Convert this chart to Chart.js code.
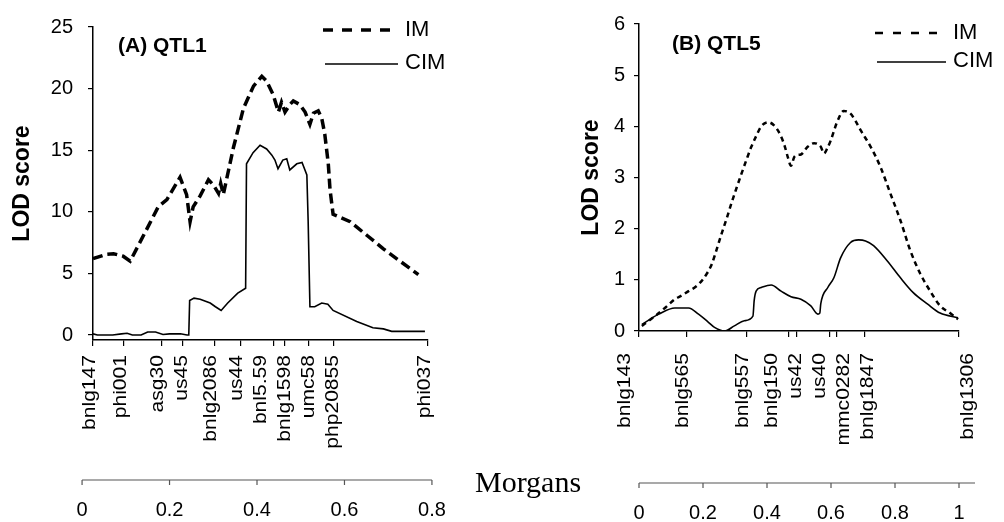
<!DOCTYPE html>
<html>
<head>
<meta charset="utf-8">
<title>QTL1 / QTL5 LOD profiles</title>
<script src="https://cdn.jsdelivr.net/npm/chart.js@4.4.1/dist/chart.umd.min.js"></script>
<style>
  body { margin: 0; background: #fff; }
  #wrap { position: relative; width: 1004px; height: 522px; overflow: hidden; }
  canvas { position: absolute; top: 0; }
  #cA { left: 0; }
  #cB { left: 540px; }
  #morgans { position: absolute; left: 475px; top: 467px; font: 30px 'Liberation Serif', 'Times New Roman', serif; line-height: 30px; color: #000; }
</style>
</head>
<body>
<div id="wrap">
  <canvas id="cA" width="540" height="522"></canvas>
  <canvas id="cB" width="464" height="522"></canvas>
  <div id="morgans">Morgans</div>
</div>
<script>
// ---- (A) QTL1 : positions in Morgans, LOD scores ----
const qtl1Markers = ['bnlg147', 'phi001', 'asg30', 'us45', 'bnlg2086', 'us44', 'bnl5.59', 'bnlg1598', 'umc58', 'php20855', 'phi037'];
const qtl1MarkerPos = [0.025, 0.096, 0.183, 0.231, 0.302, 0.363, 0.439, 0.462, 0.517, 0.576, 0.791];
const qtl1ImPos = [0.025, 0.056, 0.072, 0.094, 0.110, 0.148, 0.174, 0.194, 0.224, 0.239, 0.247, 0.254, 0.270, 0.289, 0.300, 0.312, 0.317, 0.323,
  0.346, 0.369, 0.392, 0.411, 0.422, 0.437, 0.449, 0.456, 0.464, 0.475, 0.483, 0.498, 0.510, 0.521, 0.529, 0.540, 0.548, 0.555, 0.563, 0.567, 0.574,
  0.613, 0.651, 0.689, 0.727, 0.769];
const qtl1ImLod = [6.2, 6.55, 6.6, 6.4, 6.0, 8.6, 10.4, 11.0, 12.8, 11.4, 9.2, 10.4, 11.3, 12.6, 12.2, 11.5, 12.3, 11.4,
  15.2, 18.4, 20.2, 21.0, 20.6, 19.5, 18.1, 18.9, 18.1, 18.7, 19.0, 18.7, 18.1, 17.1, 18.0, 18.2, 17.6, 16.3, 13.9, 11.8, 9.8,
  9.2, 8.1, 7.0, 6.0, 4.9];
const qtl1CimPos = [0.025, 0.035, 0.070, 0.090, 0.103, 0.115, 0.135, 0.150, 0.168, 0.185, 0.200, 0.225, 0.240, 0.244, 0.246, 0.256, 0.270, 0.293,
  0.305, 0.318, 0.333, 0.356, 0.374, 0.376, 0.391, 0.407, 0.422, 0.434, 0.441, 0.448, 0.459, 0.468, 0.475, 0.491, 0.503, 0.514, 0.517, 0.521,
  0.532, 0.548, 0.562, 0.574, 0.628, 0.665, 0.689, 0.708, 0.784];
const qtl1CimLod = [0.1, 0.0, 0.0, 0.1, 0.15, 0.0, 0.0, 0.25, 0.25, 0.05, 0.1, 0.1, 0.0, 0.0, 2.8, 3.0, 2.9, 2.6,
  2.3, 2.0, 2.6, 3.4, 3.8, 13.9, 14.8, 15.4, 15.1, 14.6, 14.2, 13.5, 14.2, 14.3, 13.4, 13.9, 14.0, 13.0, 9.2, 2.3,
  2.3, 2.6, 2.5, 2.0, 1.1, 0.6, 0.5, 0.3, 0.3];
const qtl1LodTicks = [0, 5, 10, 15, 20, 25];
const qtl1MorganTicks = [0, 0.2, 0.4, 0.6, 0.8];

// ---- (B) QTL5 ----
const qtl5Markers = ['bnlg143', 'bnlg565', 'bnlg557', 'bnlg150', 'us42', 'us40', 'mmc0282', 'bnlg1847', 'bnlg1306'];
const qtl5MarkerPos = [0.0, 0.148, 0.335, 0.467, 0.494, 0.595, 0.618, 0.705, 0.998];
const qtl5ImPos = [0.009, 0.035, 0.062, 0.090, 0.112, 0.135, 0.155, 0.174, 0.196, 0.212, 0.227, 0.243, 0.258, 0.274, 0.289, 0.305, 0.320, 0.336,
  0.351, 0.367, 0.382, 0.404, 0.422, 0.434, 0.444, 0.455, 0.465, 0.475, 0.485, 0.496, 0.506, 0.527, 0.547, 0.568, 0.578, 0.589, 0.599, 0.620,
  0.640, 0.661, 0.677, 0.693, 0.724, 0.755, 0.786, 0.817, 0.848, 0.879, 0.910, 0.941, 0.972, 0.997];
const qtl5ImLod = [0.10, 0.22, 0.35, 0.50, 0.62, 0.70, 0.78, 0.85, 0.98, 1.12, 1.30, 1.60, 1.90, 2.20, 2.50, 2.80, 3.07, 3.35,
  3.60, 3.82, 4.00, 4.08, 4.02, 3.92, 3.80, 3.62, 3.40, 3.23, 3.40, 3.44, 3.45, 3.60, 3.67, 3.60, 3.47, 3.58, 3.72, 4.10,
  4.30, 4.25, 4.10, 3.92, 3.60, 3.20, 2.68, 2.16, 1.57, 1.12, 0.78, 0.49, 0.35, 0.23];
const qtl5CimPos = [0.009, 0.062, 0.112, 0.155, 0.186, 0.217, 0.236, 0.267, 0.298, 0.329, 0.356, 0.360, 0.366, 0.382, 0.413, 0.444, 0.475, 0.506,
  0.537, 0.559, 0.565, 0.568, 0.590, 0.609, 0.630, 0.661, 0.686, 0.708, 0.733, 0.776, 0.817, 0.857, 0.901, 0.941, 0.997];
const qtl5CimLod = [0.13, 0.33, 0.45, 0.45, 0.33, 0.17, 0.07, 0.00, 0.10, 0.20, 0.29, 0.60, 0.78, 0.85, 0.90, 0.78, 0.67, 0.62,
  0.49, 0.33, 0.35, 0.53, 0.85, 1.04, 1.43, 1.73, 1.78, 1.76, 1.67, 1.37, 1.04, 0.75, 0.53, 0.35, 0.26];
const qtl5LodTicks = [0, 1, 2, 3, 4, 5, 6];
const qtl5MorganTicks = [0, 0.2, 0.4, 0.6, 0.8, 1];

const FAMILY = "'Liberation Sans', Arial, sans-serif";
Chart.defaults.font.family = FAMILY;
Chart.defaults.color = '#000';

function pts(xs, ys) {
  return xs.map((x, i) => ({ x: x, y: ys[i] }));
}

// push labels apart so neighbours keep a minimum gap
function spread(p, gap) {
  const g = p.map(v => ({ sum: v, n: 1 }));
  const start = q => q.sum / q.n - (q.n - 1) * gap / 2;
  let i = 0;
  while (i < g.length - 1) {
    const a = g[i], b = g[i + 1];
    if (start(b) - (start(a) + (a.n - 1) * gap) < gap) {
      a.sum += b.sum; a.n += b.n; g.splice(i + 1, 1);
      i = Math.max(i - 1, 0);
    } else i++;
  }
  const out = [];
  g.forEach(q => { for (let k = 0; k < q.n; k++) out.push(start(q) + k * gap); });
  return out;
}

const panelExtras = {
  id: 'panelExtras',
  afterDraw(chart, args, o) {
    const ctx = chart.ctx, xs = chart.scales.x;
    const ds = chart.data.datasets;
    ctx.save();
    ctx.fillStyle = '#000';
    ctx.strokeStyle = '#000';

    // panel title
    ctx.font = 'bold 21px ' + FAMILY;
    ctx.textAlign = 'left';
    ctx.textBaseline = 'alphabetic';
    ctx.fillText(o.title, o.titleX, o.titleY);

    // legend
    ctx.lineWidth = ds[0].borderWidth;
    ctx.setLineDash(o.legDash);
    ctx.beginPath(); ctx.moveTo(o.legX0, o.legY1); ctx.lineTo(o.legX1, o.legY1); ctx.stroke();
    ctx.setLineDash([]);
    ctx.lineWidth = ds[1].borderWidth;
    ctx.beginPath(); ctx.moveTo(o.legX0 + 2, o.legY2); ctx.lineTo(o.legX1 + 8, o.legY2); ctx.stroke();
    ctx.font = '22px ' + FAMILY;
    ctx.textBaseline = 'middle';
    ctx.fillText(ds[0].label, o.legTextX, o.legY1);
    ctx.fillText(ds[1].label, o.legTextX, o.legY2 - 1);

    // marker names under the ticks
    let px = o.markerPos.map(v => xs.getPixelForValue(v) - 3);
    px = spread(px, 24).map((p, i) => p + (o.nudge[i] || 0));
    ctx.font = '18px ' + FAMILY;
    o.markers.forEach((name, i) => {
      ctx.save();
      ctx.translate(px[i], o.labelTop);
      ctx.rotate(-Math.PI / 2);
      ctx.scale(1.17, 1);
      ctx.textAlign = 'right';
      ctx.textBaseline = 'middle';
      ctx.fillText(name, 0, 0);
      ctx.restore();
    });

    // Morgans scale
    const mt = o.morganTicks;
    const m0 = xs.getPixelForValue(mt[0]);
    const m1 = xs.getPixelForValue(mt[mt.length - 1]);
    ctx.strokeStyle = '#555';
    ctx.lineWidth = 1.2;
    ctx.beginPath(); ctx.moveTo(m0, o.morganY); ctx.lineTo(m1 + o.morganExtra, o.morganY); ctx.stroke();
    ctx.font = '20px ' + FAMILY;
    ctx.textAlign = 'center';
    ctx.textBaseline = 'middle';
    mt.forEach(v => {
      const p = xs.getPixelForValue(v);
      ctx.beginPath(); ctx.moveTo(p, o.morganY); ctx.lineTo(p, o.morganY + 5); ctx.stroke();
      ctx.fillText(String(v), p, o.morganY + 30);
    });
    ctx.restore();
  }
};

function makePanel(id, d) {
  return new Chart(document.getElementById(id), {
    type: 'line',
    data: {
      datasets: [
        { label: 'IM', data: d.im, borderColor: '#000', borderWidth: d.imWidth, borderDash: d.imDash,
          pointRadius: 0, fill: false, cubicInterpolationMode: d.smooth ? 'monotone' : 'default', tension: 0 },
        { label: 'CIM', data: d.cim, borderColor: '#000', borderWidth: 1.6,
          pointRadius: 0, fill: false, cubicInterpolationMode: d.smooth ? 'monotone' : 'default', tension: 0 }
      ]
    },
    options: {
      responsive: false,
      animation: false,
      devicePixelRatio: 1,
      layout: { padding: { left: 0, top: d.padTop, right: d.padRight, bottom: d.padBottom } },
      plugins: {
        legend: { display: false },
        tooltip: { enabled: false },
        panelExtras: d.extras
      },
      scales: {
        x: {
          type: 'linear', min: d.xMin, max: d.xMax,
          afterBuildTicks: s => { s.ticks = d.extras.markerPos.map(v => ({ value: v })); },
          afterFit: s => { s.height = 6; },
          border: { color: '#000', width: 1.5 },
          grid: { drawOnChartArea: false, tickLength: 6, color: '#000', lineWidth: 1.2 },
          ticks: { display: false }
        },
        y: {
          type: 'linear', min: d.yMin, max: d.yMax,
          afterBuildTicks: s => { s.ticks = d.lodTicks.map(v => ({ value: v })); },
          afterFit: s => { s.width = d.yWidth; },
          border: { color: '#000', width: 1.5 },
          grid: { drawOnChartArea: false, tickLength: 5, color: '#000', lineWidth: 1.2 },
          ticks: { font: { size: 20 }, color: '#000', padding: d.tickPad },
          title: { display: true, text: 'LOD score', color: '#000',
                   font: { size: 23, weight: 'bold' }, padding: { top: d.titlePad, bottom: 0 } }
        }
      }
    },
    plugins: [panelExtras]
  });
}

makePanel('cA', {
  im: pts(qtl1ImPos, qtl1ImLod), cim: pts(qtl1CimPos, qtl1CimLod),
  imWidth: 3.5, imDash: [10, 5], smooth: false,
  xMin: 0.025, xMax: 0.791, yMin: -0.4, yMax: 25, lodTicks: qtl1LodTicks,
  padTop: 20, padRight: 112, padBottom: 176, yWidth: 93, tickPad: 15, titlePad: 9,
  extras: {
    title: '(A) QTL1', titleX: 118, titleY: 52,
    legX0: 323, legX1: 390, legY1: 30, legY2: 64, legTextX: 405, legDash: [10, 9],
    markers: qtl1Markers, markerPos: qtl1MarkerPos, labelTop: 355, nudge: [],
    morganTicks: qtl1MorganTicks, morganY: 480, morganExtra: 0
  }
});

makePanel('cB', {
  im: pts(qtl5ImPos, qtl5ImLod), cim: pts(qtl5CimPos, qtl5CimLod),
  imWidth: 2.5, imDash: [5, 4], smooth: true,
  xMin: 0, xMax: 1, yMin: 0, yMax: 6, lodTicks: qtl5LodTicks,
  padTop: 24, padRight: 45, padBottom: 185, yWidth: 99, tickPad: 9, titlePad: 38,
  extras: {
    title: '(B) QTL5', titleX: 132, titleY: 50,
    legX0: 335, legX1: 398, legY1: 33, legY2: 62, legTextX: 413, legDash: [8, 10],
    markers: qtl5Markers, markerPos: qtl5MarkerPos, labelTop: 353, nudge: [-11, 0, 0, 0, 0, 0, 0, 0, 13],
    morganTicks: qtl5MorganTicks, morganY: 483, morganExtra: 16
  }
});
</script>
</body>
</html>
